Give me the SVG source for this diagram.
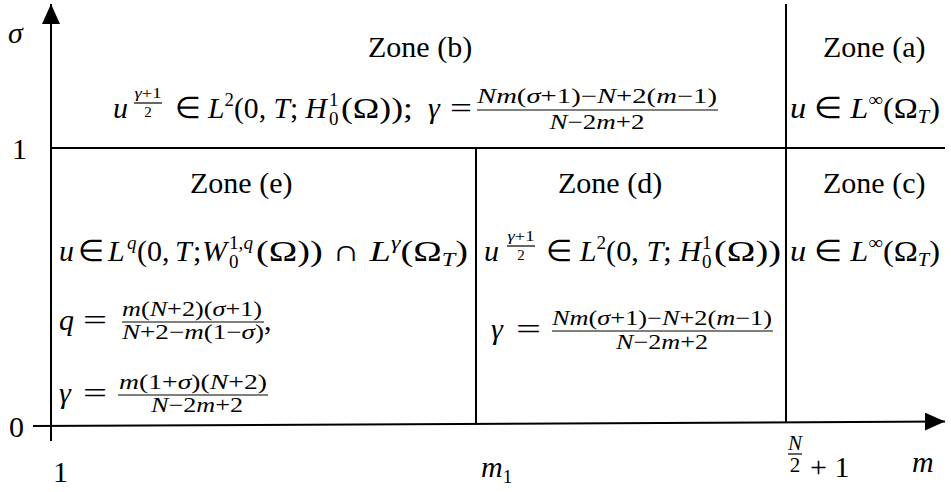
<svg xmlns="http://www.w3.org/2000/svg" width="951" height="492" viewBox="0 0 951 492">
<style>
text{font-family:"Liberation Serif","Times New Roman",serif;font-size:30px;fill:#000}
.i{font-style:italic}
.s{font-size:19px}
.f{font-size:21px}
.ff{font-size:15px}
.ax{stroke:#000;stroke-width:2;fill:none}
.bar{stroke:#000;stroke-width:1.2}
</style>
<defs>
<marker id="arr" viewBox="0 0 20 18" refX="20" refY="9" markerWidth="20" markerHeight="18" orient="auto" markerUnits="userSpaceOnUse"><path d="M0,0 L20,9 L0,18 z" fill="#000"/></marker>
</defs>
<g id="connectors">
<line class="ax" x1="51" y1="441" x2="51" y2="4" marker-end="url(#arr)"/>
<line class="ax" x1="33" y1="426" x2="945" y2="421.5" marker-end="url(#arr)"/>
<line class="ax" x1="51" y1="148" x2="945" y2="148"/>
<line class="ax" x1="786" y1="4" x2="786" y2="423"/>
<line class="ax" x1="476" y1="148" x2="476" y2="424.5"/>
</g>
<g id="axis-labels">
<text x="8" y="43" class="i">σ</text>
<text x="12" y="159">1</text>
<text x="9" y="437">0</text>
<text x="53" y="482">1</text>
<text x="481" y="477" class="i">m<tspan class="s" font-style="normal" dy="6">1</tspan></text>
<text class="f" x="795" y="450" text-anchor="middle" font-style="italic">N</text>
<line class="bar" x1="788" y1="454" x2="802" y2="454"/>
<text class="f" x="795" y="472" text-anchor="middle">2</text>
<text x="810" y="477">+ 1</text>
<text x="912" y="472" class="i">m</text>
</g>
<g id="zone-b">
<text x="368" y="57">Zone (b)</text>
<text x="113" y="118" class="i">u</text>
<text class="ff" x="148" y="98" text-anchor="middle" textLength="27" lengthAdjust="spacingAndGlyphs"><tspan class="i">γ</tspan>+1</text>
<line class="bar" x1="134" y1="103" x2="162" y2="103"/>
<text class="ff" x="148" y="117" text-anchor="middle">2</text>
<text x="175" y="118" textLength="152" lengthAdjust="spacingAndGlyphs">∈ <tspan class="i">L</tspan><tspan class="s" dy="-12">2</tspan><tspan dy="12">(0, </tspan><tspan class="i">T</tspan>; <tspan class="i">H</tspan></text>
<text class="s" x="329" y="106">1</text>
<text class="s" x="329" y="125">0</text>
<text x="341" y="118" textLength="72" lengthAdjust="spacingAndGlyphs">(Ω));</text>
<text x="428" y="118" class="i">γ</text>
<text x="450" y="118" textLength="22" lengthAdjust="spacingAndGlyphs">=</text>
<text class="f" x="597" y="103" text-anchor="middle" textLength="240" lengthAdjust="spacingAndGlyphs"><tspan class="i">Nm</tspan>(<tspan class="i">σ</tspan>+1)−<tspan class="i">N</tspan>+2(<tspan class="i">m</tspan>−1)</text>
<line class="bar" x1="477" y1="110" x2="718" y2="110"/>
<text class="f" x="597" y="129" text-anchor="middle" textLength="95" lengthAdjust="spacingAndGlyphs"><tspan class="i">N</tspan>−2<tspan class="i">m</tspan>+2</text>
</g>
<g id="zone-a">
<text x="823" y="57">Zone (a)</text>
<text x="790" y="118" textLength="150" lengthAdjust="spacingAndGlyphs"><tspan class="i">u</tspan> ∈ <tspan class="i">L</tspan><tspan class="s" dy="-12">∞</tspan><tspan dy="12">(Ω</tspan><tspan class="s i" dy="5">T</tspan><tspan dy="-5">)</tspan></text>
</g>
<g id="zone-e">
<text x="190" y="193">Zone (e)</text>
<text y="261"><tspan class="i" x="59">u</tspan><tspan x="78">∈</tspan><tspan class="i" x="108">L</tspan></text>
<text class="s i" x="127" y="249">q</text>
<text y="261"><tspan x="137">(0,</tspan><tspan class="i" x="175">T</tspan><tspan x="193">;</tspan><tspan class="i" x="202">W</tspan></text>
<text class="s" x="229" y="249" textLength="24" lengthAdjust="spacingAndGlyphs">1,<tspan class="i">q</tspan></text>
<text class="s" x="229" y="268">0</text>
<text x="256" y="261" textLength="212" lengthAdjust="spacingAndGlyphs">(Ω)) ∩ <tspan class="i">L</tspan><tspan class="s i" dy="-12">γ</tspan><tspan dy="12">(Ω</tspan><tspan class="s i" dy="5">T</tspan><tspan dy="-5">)</tspan></text>
<text x="59" y="330" class="i">q</text>
<text x="83" y="330" textLength="24" lengthAdjust="spacingAndGlyphs">=</text>
<text class="f" x="192" y="316" text-anchor="middle" textLength="140" lengthAdjust="spacingAndGlyphs"><tspan class="i">m</tspan>(<tspan class="i">N</tspan>+2)(<tspan class="i">σ</tspan>+1)</text>
<line class="bar" x1="122" y1="322" x2="264" y2="322"/>
<text class="f" x="193" y="339" text-anchor="middle" textLength="142" lengthAdjust="spacingAndGlyphs"><tspan class="i">N</tspan>+2−<tspan class="i">m</tspan>(1−<tspan class="i">σ</tspan>)</text>
<text x="264" y="330">,</text>
<text x="59" y="403" class="i">γ</text>
<text x="83" y="403" textLength="24" lengthAdjust="spacingAndGlyphs">=</text>
<text class="f" x="193" y="389" text-anchor="middle" textLength="148" lengthAdjust="spacingAndGlyphs"><tspan class="i">m</tspan>(1+<tspan class="i">σ</tspan>)(<tspan class="i">N</tspan>+2)</text>
<line class="bar" x1="118" y1="395" x2="268" y2="395"/>
<text class="f" x="197" y="412" text-anchor="middle" textLength="92" lengthAdjust="spacingAndGlyphs"><tspan class="i">N</tspan>−2<tspan class="i">m</tspan>+2</text>
</g>
<g id="zone-d">
<text x="558" y="193">Zone (d)</text>
<text x="484" y="261" class="i">u</text>
<text class="ff" x="521" y="241" text-anchor="middle" textLength="27" lengthAdjust="spacingAndGlyphs"><tspan class="i">γ</tspan>+1</text>
<line class="bar" x1="507" y1="246" x2="535" y2="246"/>
<text class="ff" x="521" y="260" text-anchor="middle">2</text>
<text x="546" y="261" textLength="155" lengthAdjust="spacingAndGlyphs">∈ <tspan class="i">L</tspan><tspan class="s" dy="-12">2</tspan><tspan dy="12">(0, </tspan><tspan class="i">T</tspan>; <tspan class="i">H</tspan></text>
<text class="s" x="702" y="249">1</text>
<text class="s" x="702" y="268">0</text>
<text x="714" y="261" textLength="67" lengthAdjust="spacingAndGlyphs">(Ω))</text>
<text x="491" y="339" class="i">γ</text>
<text x="516" y="339" textLength="25" lengthAdjust="spacingAndGlyphs">=</text>
<text class="f" x="662" y="325" text-anchor="middle" textLength="220" lengthAdjust="spacingAndGlyphs"><tspan class="i">Nm</tspan>(<tspan class="i">σ</tspan>+1)−<tspan class="i">N</tspan>+2(<tspan class="i">m</tspan>−1)</text>
<line class="bar" x1="552" y1="331" x2="773" y2="331"/>
<text class="f" x="662" y="349" text-anchor="middle" textLength="92" lengthAdjust="spacingAndGlyphs"><tspan class="i">N</tspan>−2<tspan class="i">m</tspan>+2</text>
</g>
<g id="zone-c">
<text x="823" y="193">Zone (c)</text>
<text x="790" y="261" textLength="150" lengthAdjust="spacingAndGlyphs"><tspan class="i">u</tspan> ∈ <tspan class="i">L</tspan><tspan class="s" dy="-12">∞</tspan><tspan dy="12">(Ω</tspan><tspan class="s i" dy="5">T</tspan><tspan dy="-5">)</tspan></text>
</g>
</svg>
